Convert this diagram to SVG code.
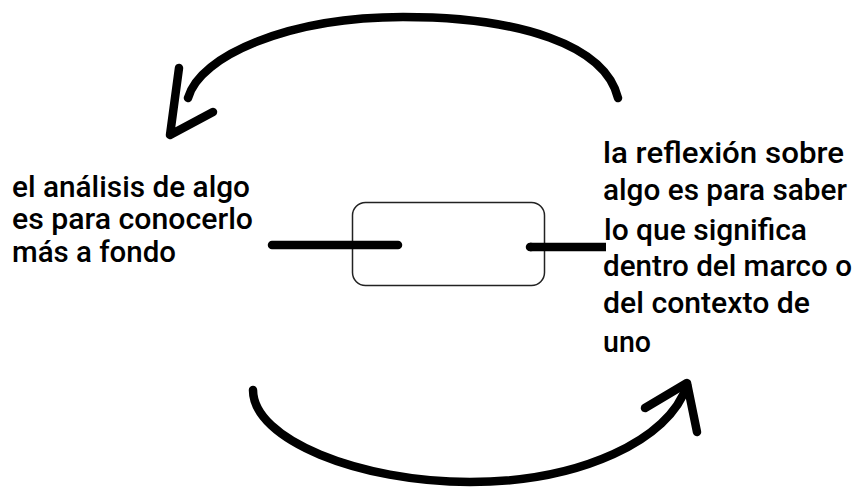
<svg xmlns="http://www.w3.org/2000/svg" width="861" height="487" viewBox="0 0 861 487">
<style>
.t{font-family:Roboto,"Liberation Sans",Arial,sans-serif;font-weight:500;font-size:30px;fill:#000}
.stroke{fill:none;stroke:#000;stroke-width:8.5;stroke-linecap:round;stroke-linejoin:round}
.box{fill:#fff;stroke:#222;stroke-width:1.5}
</style>
<rect width="861" height="487" fill="#fff"/>
<g id="center-box">
<rect class="box" x="352.5" y="202.5" width="192" height="83" rx="13"/>
</g>
<g id="left-text">
<text class="t" x="12" y="197" textLength="238" lengthAdjust="spacingAndGlyphs">el análisis de algo</text>
<text class="t" x="12" y="229" textLength="241" lengthAdjust="spacingAndGlyphs">es para conocerlo</text>
<text class="t" x="12" y="262" textLength="164" lengthAdjust="spacingAndGlyphs">más a fondo</text>
</g>
<g id="right-text">
<text class="t" x="603" y="163" textLength="241" lengthAdjust="spacingAndGlyphs">la reflexión sobre</text>
<text class="t" x="603" y="200" textLength="244" lengthAdjust="spacingAndGlyphs">algo es para saber</text>
<text class="t" x="604" y="240" textLength="203" lengthAdjust="spacingAndGlyphs">lo que significa</text>
<text class="t" x="603" y="276" textLength="249" lengthAdjust="spacingAndGlyphs">dentro del marco o</text>
<text class="t" x="603" y="313" textLength="207" lengthAdjust="spacingAndGlyphs">del contexto de</text>
<text class="t" x="603" y="352" textLength="48" lengthAdjust="spacingAndGlyphs">uno</text>
</g>
<g id="connectors">
<line class="stroke" x1="272" y1="245" x2="398" y2="245"/>
<line class="stroke" x1="530" y1="247" x2="606" y2="247" style="stroke-linecap:butt"/>
<line class="stroke" x1="530" y1="247" x2="531" y2="247"/>
<path class="stroke" d="M618,98 C605,45 520,17 403,17 C290,17 200,55 188,98"/>
<polyline class="stroke" points="179,68 170,135 213,112"/>
<path class="stroke" d="M253,390 C253,440 360,482 470,482 C580,482 670,440 687,385"/>
<polyline class="stroke" points="645,408 687,383 697,432"/>
</g>
</svg>
